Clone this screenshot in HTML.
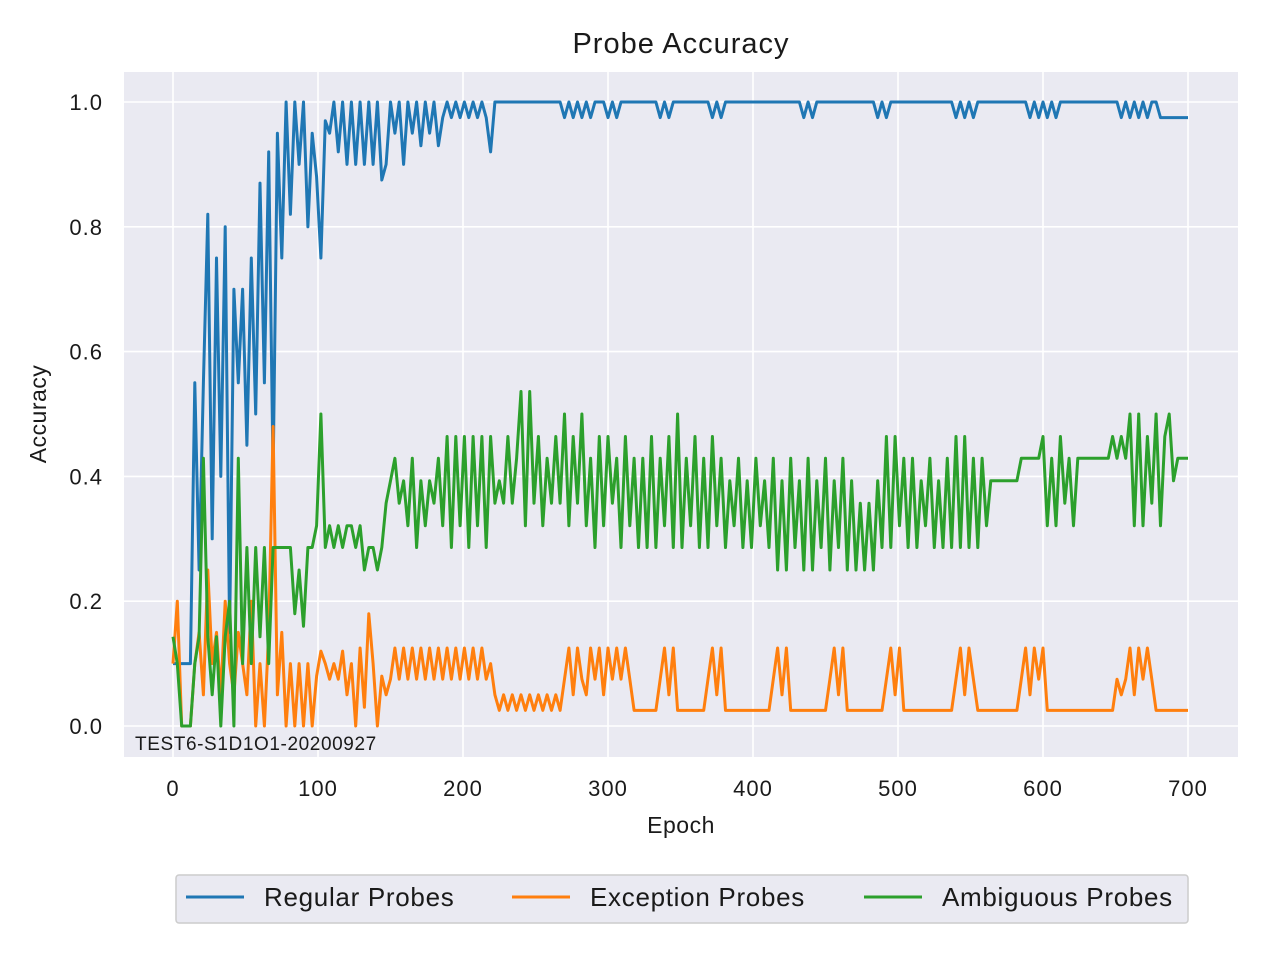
<!DOCTYPE html>
<html><head><meta charset="utf-8"><style>
body{margin:0;background:#fff;}
svg text{font-family:"Liberation Sans",Arial,sans-serif;fill:#1a1a1a;}
</style></head><body>
<svg id="chart" width="1280" height="960" xmlns="http://www.w3.org/2000/svg">
<rect width="1280" height="960" fill="#fff"/>
<rect x="124" y="72" width="1114" height="685" fill="#eaeaf2"/>
<g id="grid"></g>
<g id="series"></g>
<g id="ticks"></g>
<text x="681" y="53" font-size="29" letter-spacing="1" text-anchor="middle">Probe Accuracy</text>
<text x="681" y="833" font-size="23" letter-spacing="0.5" text-anchor="middle">Epoch</text>
<text transform="translate(46,414) rotate(-90)" font-size="23" letter-spacing="0.5" text-anchor="middle">Accuracy</text>
<text x="135" y="750" font-size="19" letter-spacing="0.6">TEST6-S1D1O1-20200927</text>
<g>
<rect x="176" y="875" width="1012" height="48" fill="#eaeaf2" stroke="#cccccc" stroke-width="1.5" rx="3"/>
<g><line x1="186" y1="897" x2="244" y2="897" stroke="#1f77b4" stroke-width="3"/><text x="264" y="906" font-size="26" letter-spacing="0.7">Regular Probes</text></g>
<g><line x1="512" y1="897" x2="570" y2="897" stroke="#ff7f0e" stroke-width="3"/><text x="590" y="906" font-size="26" letter-spacing="0.7">Exception Probes</text></g>
<g><line x1="864" y1="897" x2="922" y2="897" stroke="#2ca02c" stroke-width="3"/><text x="942" y="906" font-size="26" letter-spacing="0.7">Ambiguous Probes</text></g>
</g>
</svg>
<script>
const epochStep = 3;
const xTicks = [0,100,200,300,400,500,600,700];
const yTicks = [0.0,0.2,0.4,0.6,0.8,1.0];
const regular = [0.1,0.1,0.1,0.1,0.1,0.55,0.25,0.55,0.82,0.3,
0.75,0.4,0.8,0.15,0.7,0.55,0.7,0.45,0.75,0.5,
0.87,0.55,0.92,0.4,0.95,0.75,1,0.82,1,0.9,
1,0.8,0.95,0.88,0.75,0.97,0.95,1,0.92,1,
0.9,1,0.9,1,0.9,1,0.9,1,0.875,0.9,
1,0.95,1,0.9,1,0.95,1,0.93,1,0.95,
1,0.93,0.975,1,0.975,1,0.975,1,0.975,1,
0.975,1,0.975,0.92,1,1,1,1,1,1,
1,1,1,1,1,1,1,1,1,1,
0.975,1,0.975,1,0.975,1,0.975,1,1,1,
0.975,1,0.975,1,1,1,1,1,1,1,
1,1,0.975,1,0.975,1,1,1,1,1,
1,1,1,1,0.975,1,0.975,1,1,1,
1,1,1,1,1,1,1,1,1,1,
1,1,1,1,1,0.975,1,0.975,1,1,
1,1,1,1,1,1,1,1,1,1,
1,1,0.975,1,0.975,1,1,1,1,1,
1,1,1,1,1,1,1,1,1,1,
0.975,1,0.975,1,0.975,1,1,1,1,1,
1,1,1,1,1,1,1,0.975,1,0.975,
1,0.975,1,0.975,1,1,1,1,1,1,
1,1,1,1,1,1,1,1,0.975,1,
0.975,1,0.975,1,0.975,1,1,0.975,0.975,0.975,
0.975,0.975,0.975,0.975];
const exception = [0.1,0.2,0,0,0,0.1,0.15,0.05,0.25,0.1,
0.15,0.05,0.2,0.1,0.05,0.15,0.1,0.05,0.2,0,
0.1,0,0.15,0.48,0.05,0.15,0,0.1,0,0.1,
0,0.1,0,0.08,0.12,0.1,0.075,0.1,0.075,0.12,
0.05,0.1,0,0.125,0.03,0.18,0.1,0,0.08,0.05,
0.075,0.125,0.075,0.125,0.075,0.125,0.075,0.125,0.075,0.125,
0.075,0.125,0.075,0.125,0.075,0.125,0.075,0.125,0.075,0.125,
0.075,0.125,0.075,0.1,0.05,0.025,0.05,0.025,0.05,0.025,
0.05,0.025,0.05,0.025,0.05,0.025,0.05,0.025,0.05,0.025,
0.075,0.125,0.05,0.125,0.075,0.05,0.125,0.075,0.125,0.05,
0.125,0.075,0.125,0.075,0.125,0.075,0.025,0.025,0.025,0.025,
0.025,0.025,0.075,0.125,0.05,0.125,0.025,0.025,0.025,0.025,
0.025,0.025,0.025,0.075,0.125,0.05,0.125,0.025,0.025,0.025,
0.025,0.025,0.025,0.025,0.025,0.025,0.025,0.025,0.075,0.125,
0.05,0.125,0.025,0.025,0.025,0.025,0.025,0.025,0.025,0.025,
0.025,0.075,0.125,0.05,0.125,0.025,0.025,0.025,0.025,0.025,
0.025,0.025,0.025,0.025,0.075,0.125,0.05,0.125,0.025,0.025,
0.025,0.025,0.025,0.025,0.025,0.025,0.025,0.025,0.025,0.025,
0.075,0.125,0.05,0.125,0.075,0.025,0.025,0.025,0.025,0.025,
0.025,0.025,0.025,0.025,0.025,0.075,0.125,0.05,0.125,0.075,
0.125,0.025,0.025,0.025,0.025,0.025,0.025,0.025,0.025,0.025,
0.025,0.025,0.025,0.025,0.025,0.025,0.025,0.075,0.05,0.075,
0.125,0.05,0.125,0.075,0.125,0.075,0.025,0.025,0.025,0.025,
0.025,0.025,0.025,0.025];
const ambiguous = [0.143,0.1,0,0,0,0.1,0.143,0.429,0.143,0.05,
0.143,0,0.143,0.2,0,0.429,0.1,0.286,0.1,0.286,
0.143,0.286,0.1,0.286,0.286,0.286,0.286,0.286,0.18,0.25,
0.16,0.286,0.286,0.321,0.5,0.286,0.321,0.286,0.321,0.286,
0.321,0.321,0.286,0.321,0.25,0.286,0.286,0.25,0.286,0.357,
0.393,0.429,0.357,0.393,0.321,0.429,0.286,0.393,0.321,0.393,
0.357,0.429,0.321,0.464,0.286,0.464,0.321,0.464,0.286,0.464,
0.321,0.464,0.286,0.464,0.357,0.393,0.357,0.464,0.357,0.429,
0.536,0.321,0.536,0.357,0.464,0.321,0.429,0.357,0.464,0.357,
0.5,0.321,0.464,0.357,0.5,0.321,0.429,0.286,0.464,0.321,
0.464,0.357,0.429,0.286,0.464,0.321,0.429,0.286,0.429,0.286,
0.464,0.286,0.429,0.321,0.464,0.286,0.5,0.286,0.429,0.321,
0.464,0.286,0.429,0.286,0.464,0.321,0.429,0.286,0.393,0.321,
0.429,0.286,0.393,0.286,0.429,0.321,0.393,0.286,0.429,0.25,
0.393,0.25,0.429,0.286,0.393,0.25,0.429,0.25,0.393,0.286,
0.429,0.25,0.393,0.286,0.429,0.25,0.393,0.25,0.357,0.25,
0.357,0.25,0.393,0.286,0.464,0.286,0.464,0.321,0.429,0.286,
0.429,0.286,0.393,0.321,0.429,0.286,0.393,0.286,0.429,0.286,
0.464,0.286,0.464,0.286,0.429,0.286,0.429,0.321,0.393,0.393,
0.393,0.393,0.393,0.393,0.393,0.429,0.429,0.429,0.429,0.429,
0.464,0.321,0.429,0.321,0.464,0.357,0.429,0.321,0.429,0.429,
0.429,0.429,0.429,0.429,0.429,0.429,0.464,0.429,0.464,0.429,
0.5,0.321,0.5,0.321,0.464,0.357,0.5,0.321,0.464,0.5,
0.393,0.429,0.429,0.429];
const NS='http://www.w3.org/2000/svg';
const xs = e => 173 + e*(1188-173)/700;
const ys = v => 726 - v*(726-102);
const grid=document.getElementById('grid'), ticks=document.getElementById('ticks'), ser=document.getElementById('series');
xTicks.forEach(t=>{
  const l=document.createElementNS(NS,'line');
  l.setAttribute('x1',xs(t));l.setAttribute('x2',xs(t));l.setAttribute('y1',72);l.setAttribute('y2',757);
  l.setAttribute('stroke','#fff');l.setAttribute('stroke-width','1.6');
  
  
  grid.appendChild(l);
  const tx=document.createElementNS(NS,'text');
  tx.setAttribute('x',xs(t));tx.setAttribute('y',796);tx.setAttribute('font-size','22');tx.setAttribute('letter-spacing','1');tx.setAttribute('text-anchor','middle');
  tx.textContent=t;
  
  
  ticks.appendChild(tx);
});
yTicks.forEach(t=>{
  const l=document.createElementNS(NS,'line');
  l.setAttribute('x1',124);l.setAttribute('x2',1238);l.setAttribute('y1',ys(t));l.setAttribute('y2',ys(t));
  l.setAttribute('stroke','#fff');l.setAttribute('stroke-width','1.6');
  
  
  grid.appendChild(l);
  const tx=document.createElementNS(NS,'text');
  tx.setAttribute('x',103);tx.setAttribute('y',ys(t)+8);tx.setAttribute('font-size','22');tx.setAttribute('letter-spacing','1');tx.setAttribute('text-anchor','end');
  tx.textContent=t.toFixed(1);
  
  
  ticks.appendChild(tx);
});
function draw(vals,color,name){
  const p=document.createElementNS(NS,'polyline');
  p.setAttribute('points',vals.map((v,i)=>xs(Math.min(i*epochStep,700)).toFixed(1)+','+ys(v).toFixed(1)).join(' ')+' '+xs(700)+','+ys(vals[vals.length-1]).toFixed(1));
  p.setAttribute('fill','none');p.setAttribute('stroke',color);p.setAttribute('stroke-width','3');p.setAttribute('stroke-linejoin','round');
  
  
  ser.appendChild(p);
}
draw(regular,'#1f77b4','regular-probes-line');
draw(exception,'#ff7f0e','exception-probes-line');
draw(ambiguous,'#2ca02c','ambiguous-probes-line');
</script>
</body></html>
